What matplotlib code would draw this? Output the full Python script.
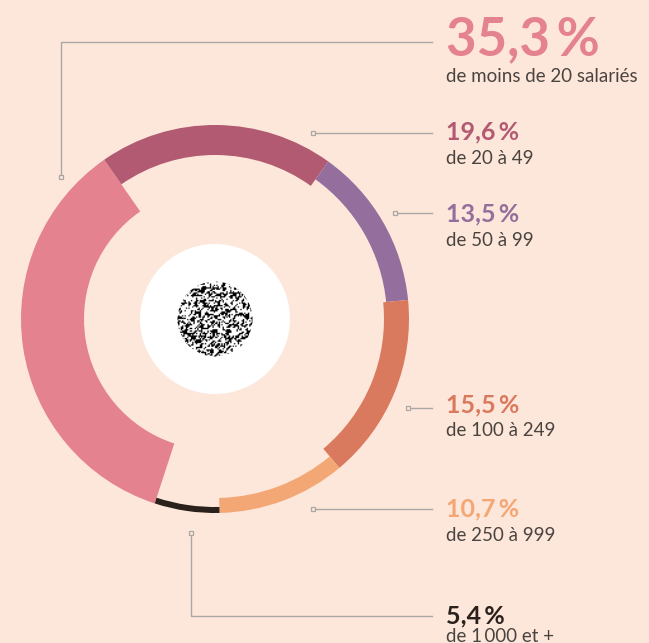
import matplotlib.pyplot as plt
import numpy as np
from matplotlib.patches import Wedge, Circle

# data
shares = [35.3, 19.6, 13.5, 15.5, 10.7, 5.4]
share_labels = ["35,3\u2009%", "19,6\u2009%", "13,5\u2009%", "15,5\u2009%",
                "10,7\u2009%", "5,4\u2009%"]
size_labels = ["de moins de 20 salariés", "de 20 à 49", "de 50 à 99",
               "de 100 à 249", "de 250 à 999", "de 1\u2009000 et +"]

# style
colors = ["#E4828F", "#B25A72", "#946E9C", "#D97A5E", "#F3A775", "#2A211C"]
ring_widths = [63, 30, 22, 25, 15, 6]
bg = "#FDE7DA"
line_col = "#ABA7A4"
text_col = "#4A4440"
font = ["Lato", "DejaVu Sans"]

W, H = 649, 643
cx, cy, r_out = 215, 319, 194
start = 251.9  # degrees, math convention, segments go clockwise

fig = plt.figure(figsize=(W / 100, H / 100), dpi=100, facecolor=bg)
ax = fig.add_axes([0, 0, 1, 1])
ax.set_xlim(0, W)
ax.set_ylim(H, 0)
ax.set_aspect("equal")
ax.axis("off")

# donut segments (y axis points down, so math angles are negated)
a = start
for val, col, w in zip(shares, colors, ring_widths):
    span = val / sum(shares) * 360
    a_end = a - span
    ax.add_patch(Wedge((cx, cy), r_out, -a, -a_end, width=w,
                       facecolor=col, edgecolor="none"))
    a = a_end

# white centre + noisy dot
ax.add_patch(Circle((cx, cy), 75, facecolor="white", edgecolor="none"))
n = 60
ii, jj = np.meshgrid(np.arange(n), np.arange(n))
h = np.sin(ii * 12.9898 + jj * 78.233) * 43758.5453
h = h - np.floor(h)
h = (h + np.roll(h, 1, 0) + np.roll(h, 1, 1)) / 3
tex = np.where(h > 0.55, 0.0, 1.0)
img = ax.imshow(tex, cmap="gray", vmin=0, vmax=1, interpolation="bilinear",
                extent=(cx - 38, cx + 38, cy + 38, cy - 38), zorder=3)
img.set_clip_path(Circle((cx, cy), 37.5, transform=ax.transData))

# leader lines: (path xs, path ys) ending at x=432
x_txt = 446
leaders = [
    ([60.5, 60.5, 432], [176.5, 41.5, 41.5]),
    ([312.5, 432], [133, 133]),
    ([395, 432], [213, 213]),
    ([407.5, 432], [408, 408]),
    ([312.5, 432], [508.5, 508.5]),
    ([191, 191, 432], [532.5, 616, 616]),
]
for xs, ys in leaders:
    ax.plot(xs, ys, color=line_col, lw=1, zorder=4)
    ax.plot(xs[0], ys[0], marker="s", ms=3.2, mfc=bg, mec=line_col,
            mew=0.9, zorder=5)

# labels: baselines for value and description
val_base = [55, 139.5, 221.5, 412.5, 516.5, 623]
desc_base = [82, 163.5, 246, 436.5, 541, 641.5]
val_size = [38, 18, 18, 18, 18, 18]
for i in range(len(shares)):
    ax.text(x_txt, val_base[i], share_labels[i], color=colors[i],
            fontsize=val_size[i], fontweight="bold", family=font,
            va="baseline", ha="left")
    ax.text(x_txt, desc_base[i], size_labels[i], color=text_col,
            fontsize=13.5, family=font, va="baseline", ha="left")

fig.savefig("out.png", dpi=100, facecolor=bg)
